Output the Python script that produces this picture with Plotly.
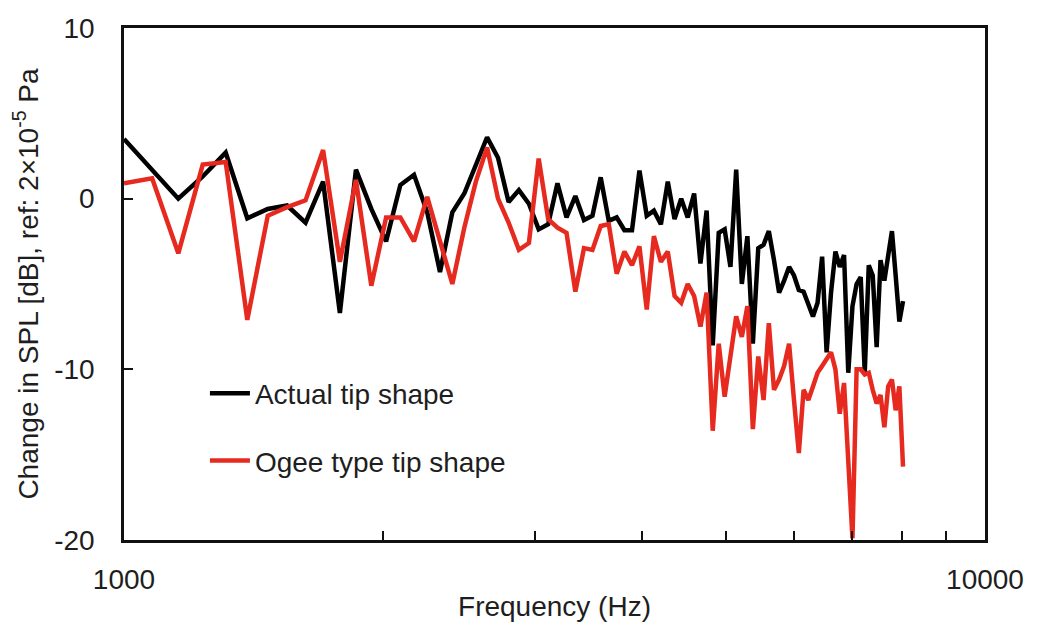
import plotly.graph_objects as go

freq_hz = [1000, 1078.1, 1156.3, 1234.4, 1312.5, 1390.6, 1468.8, 1546.9, 1625, 1703.1,
           1781.3, 1859.4, 1937.5, 2015.6, 2093.8, 2171.9, 2250, 2328.1, 2406.3, 2484.4,
           2562.5, 2640.6, 2718.8, 2796.9, 2875, 2953.1, 3031.3, 3109.4, 3187.5, 3265.6,
           3343.8, 3421.9, 3500, 3578.1, 3656.3, 3734.4, 3812.5, 3890.6, 3968.8, 4046.9,
           4125, 4203.1, 4281.3, 4359.4, 4437.5, 4515.6, 4593.8, 4671.9, 4750, 4828.1,
           4906.3, 4984.4, 5062.5, 5140.6, 5218.8, 5296.9, 5375, 5453.1, 5531.3, 5609.4,
           5687.5, 5765.6, 5843.8, 5921.9, 6000, 6078.1, 6156.3, 6234.4, 6312.5, 6390.6,
           6468.8, 6546.9, 6625, 6703.1, 6781.3, 6859.4, 6937.5, 7015.6, 7093.8, 7171.9,
           7250, 7328.1, 7406.3, 7484.4, 7562.5, 7640.6, 7718.8, 7796.9, 7875, 7953.1,
           8031.3]

actual_tip = [3.5, 1.7, 0.0, 1.3, 2.7, -1.15, -0.6, -0.4, -1.4, 1.0,
              -6.7, 1.7, -0.6, -2.5, 0.8, 1.4, -0.8, -4.3, -0.8, 0.3,
              2.0, 3.6, 2.4, -0.2, 0.5, -0.3, -1.8, -1.5, 0.9, -1.1,
              0.15, -1.25, -1.0, 1.25, -1.3, -1.1, -1.85, -1.85, 1.65, -1.0,
              -0.7, -1.5, 1.0, -1.2, 0.0, -1.1, 0.3, -3.8, -0.7, -8.6,
              -2.0, -1.8, -4.0, 1.7, -5.0, -2.2, -8.5, -2.9, -2.7, -1.9,
              -3.6, -5.5, -4.8, -4.0, -4.5, -5.35, -5.45, -6.1, -6.9, -6.1,
              -3.4, -9.0, -5.5, -3.1, -4.0, -3.3, -10.2, -6.3, -5.0, -4.6,
              -10.2, -3.9, -4.5, -8.7, -3.6, -4.8, -3.4, -1.9, -4.5, -7.2,
              -6.0]

ogee_tip = [0.9, 1.2, -3.2, 2.0, 2.15, -7.1, -1.0, -0.5, -0.1, 2.85,
            -3.7, 1.1, -5.1, -1.1, -1.1, -2.5, 0.1, -2.5, -5.0, -1.7,
            1.0, 3.0, 0.0, -1.4, -3.0, -2.6, 2.35, -1.2, -1.7, -2.0,
            -5.45, -2.9, -3.0, -1.6, -1.5, -4.4, -3.1, -3.9, -2.8, -6.5,
            -2.2, -3.7, -3.1, -5.7, -6.1, -5.0, -5.7, -7.5, -5.5, -13.6,
            -8.5, -11.6, -9.3, -6.9, -8.1, -6.3, -13.5, -9.25, -11.8, -7.3,
            -11.2, -10.6, -9.8, -8.5, -11.8, -14.9, -11.2, -11.8, -11.0, -10.2,
            -9.8, -9.4, -9.0, -10.0, -12.6, -10.8, -15.0, -19.9, -10.0, -10.0,
            -10.3, -10.2, -11.2, -12.0, -11.5, -13.4, -11.0, -10.6, -12.4, -11.0,
            -15.7]

x_tickvals = [1000, 2000, 3000, 4000, 5000, 6000, 7000, 8000, 9000, 10000]
x_ticktext = ["1000", "", "", "", "", "", "", "", "", "10000"]
y_tickvals = [-20, -10, 0, 10]
y_ticktext = ["-20", "-10", "0", "10"]

FONT = "Liberation Sans, Arial, Helvetica, sans-serif"
TXT = "#1e1e1e"

fig = go.Figure()
fig.add_trace(go.Scatter(x=freq_hz, y=actual_tip, mode="lines", name="Actual tip shape",
                         legendgroup="a", line=dict(color="#000000", width=4.5)))
fig.add_trace(go.Scatter(x=freq_hz, y=ogee_tip, mode="lines", name="Ogee type tip shape",
                         legendgroup="b", line=dict(color="#e62a1f", width=4.5)))

fig.update_layout(
    width=1045, height=632,
    margin=dict(l=116, r=68, t=20, b=100, autoexpand=False),
    paper_bgcolor="white", plot_bgcolor="white",
    font=dict(family=FONT, size=28, color=TXT),
    showlegend=True,
    legend=dict(x=0.094, y=0.335, xanchor="left", yanchor="top",
                bgcolor="rgba(0,0,0,0)", borderwidth=0,
                font=dict(family=FONT, size=28, color=TXT),
                traceorder="grouped", tracegroupgap=28, itemwidth=40),
    xaxis=dict(type="log", range=[3, 4], tickvals=x_tickvals, ticktext=x_ticktext,
               automargin=False,
               ticks="inside", ticklen=9, tickwidth=2, tickcolor="#111",
               showline=True, linewidth=2.5, linecolor="#111", mirror=True,
               showgrid=False, zeroline=False, ticklabelstandoff=13,
               tickfont=dict(family=FONT, size=28, color=TXT),
               title=dict(text="Frequency (Hz)", standoff=3,
                          font=dict(family=FONT, size=28, color=TXT))),
    yaxis=dict(range=[-20, 10], tickvals=y_tickvals, ticktext=y_ticktext,
               automargin=False,
               ticks="inside", ticklen=9, tickwidth=2, tickcolor="#111",
               showline=True, linewidth=2.5, linecolor="#111", mirror=True,
               showgrid=False, zeroline=False, ticklabelstandoff=21,
               tickfont=dict(family=FONT, size=28, color=TXT),
               title=dict(text="Change in SPL [dB], ref: 2×10<sup>-5</sup> Pa", standoff=12,
                          font=dict(family=FONT, size=28, color=TXT))),
)

fig.write_html("out.html")
